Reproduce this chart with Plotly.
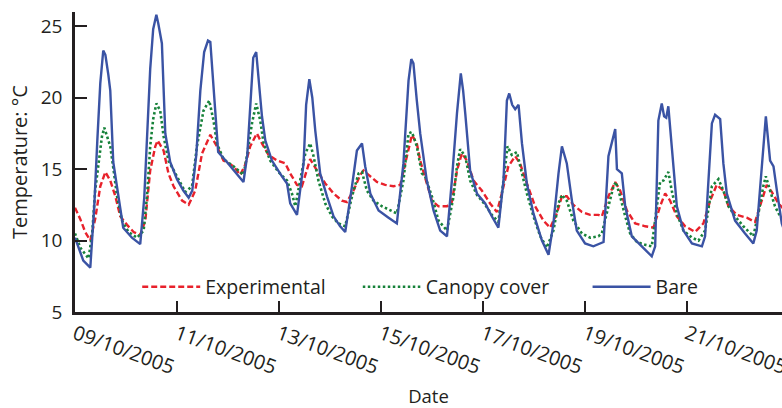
import pandas as pd
import plotly.graph_objects as go

# Hours since 09/10/2005 00:00 and temperatures (°C)
bare_hours = [0, 3.9, 7.2, 9.1, 10.5, 11.9, 13.3, 14.3, 15.7, 16.6, 18.0, 19.9, 22.7, 26.8,
              30.7, 32.6, 33.9, 35.4, 36.8, 38.3, 39.2, 40.9, 42.5, 44.8, 48.0, 51.0, 53.5,
              55.2, 57.1, 59.0, 60.8, 62.6, 63.7, 65.1, 66.8, 67.4, 71.5, 76.2, 79.3, 81.1,
              82.5, 83.9, 85.3, 86.4, 88.0, 89.6, 92.7, 97.4, 99.8, 101.3, 104.5, 107.6,
              108.8, 110.3, 111.7, 113.1, 115.4, 118.6, 121.7, 124.8, 127.2, 130.4, 132.7,
              135.1, 136.6, 139.0, 142.9, 147.6, 151.5, 154.6, 157.0, 158.3, 159.3, 160.9,
              162.5, 165.6, 168.8, 171.9, 175.1, 177.4, 179.8, 181.6, 182.7, 183.7, 186.0,
              189.2, 193.1, 196.2, 199.3, 201.7, 203.3, 204.4, 205.8, 207.2, 208.8, 210.4,
              212.7, 215.8, 219.8, 222.9, 225.2, 227.6, 229.2, 231.5, 233.9, 236.2, 240.1,
              244.0, 248.8, 251.1, 252.8, 254.3, 255.1, 257.4, 259.0, 262.1, 266.8, 271.5,
              273.1, 274.6, 276.2, 277.3, 278.3, 279.3, 280.9, 283.3, 286.4, 290.4, 295.1,
              296.6, 299.8, 301.3, 303.7, 305.2, 306.8, 310.7, 315.4, 319.3, 320.9, 323.3,
              325.2, 327.2, 328.8, 330.4, 332.7, 334.3]
bare_temp = [10.2, 8.6, 8.1, 12.5, 17.0, 21.0, 23.3, 23.0, 21.6, 20.5, 15.5, 13.5, 10.9, 10.2,
             9.75, 13.0, 17.0, 22.0, 24.8, 25.8, 25.2, 23.8, 17.5, 15.5, 14.3, 13.5, 13.0,
             13.5, 16.0, 20.5, 23.2, 24.0, 23.9, 21.0, 17.0, 16.2, 15.5, 14.7, 14.1, 16.0,
             19.5, 22.8, 23.2, 21.5, 18.7, 17.0, 15.6, 14.5, 14.0, 12.6, 11.8, 15.4,
             19.5, 21.3, 20.0, 17.7, 14.7, 13.1, 11.7, 11.0, 10.6, 13.8, 16.3,
             16.8, 15.2, 13.3, 12.1, 11.6, 11.2, 15.4, 21.2, 22.7, 22.4, 19.8,
             17.5, 14.2, 12.1, 10.7, 10.3, 14.2, 18.9, 21.7, 20.5, 18.9, 14.9,
             13.3, 12.6, 11.7, 10.9, 14.2, 19.8, 20.3, 19.5, 19.2, 19.5, 16.8,
             14.0, 11.9, 10.0, 9.0, 11.2, 14.7, 16.6, 15.4, 12.8, 10.7, 9.8,
             9.6, 9.9, 15.9, 17.0, 17.8, 15.0, 14.7, 12.4, 10.3, 9.6, 8.9,
             9.6, 18.4, 19.6, 18.7, 18.6, 19.4, 16.6, 12.4, 10.7, 9.8, 9.6,
             10.3, 18.2, 18.8, 18.5, 15.4, 13.3, 11.4, 10.5, 9.8, 10.7, 15.4,
             18.7, 15.6, 15.2, 13.5, 11.2, 10.5]

canopy_hours = [0, 2.5, 6.4, 8.1, 9.5, 11.1, 12.7, 13.8, 15.2, 16.6, 18.2, 19.8, 22.1, 25.2,
                29.2, 32.3, 33.9, 35.4, 36.8, 38.3, 40.1, 41.7, 44.0, 48.0, 51.9, 55.1, 57.4,
                60.5, 63.2, 65.2, 66.8, 69.9, 74.6, 79.3, 80.9, 83.3, 85.3, 87.2, 88.8, 91.9,
                95.8, 99.8, 102.1, 103.7, 106.0, 108.4, 110.7, 112.3, 114.6, 117.8, 120.9,
                124.0, 127.2, 130.4, 133.5, 135.1, 137.4, 140.5, 144.5, 148.4, 151.5, 154.6,
                157.0, 158.6, 160.9, 163.3, 164.8, 168.0, 171.1, 175.1, 178.2, 179.8, 181.3,
                183.7, 186.0, 189.2, 193.1, 196.2, 199.3, 201.7, 203.6, 205.6, 208.0, 210.4,
                212.7, 215.8, 219.0, 222.1, 225.2, 227.6, 229.2, 231.5, 234.6, 238.6, 242.5,
                246.4, 248.0, 251.1, 253.5, 254.6, 256.6, 259.0, 261.3, 264.5, 268.4, 271.5,
                273.9, 275.4, 277.0, 279.3, 280.9, 283.3, 286.4, 290.4, 293.5, 296.6, 299.8,
                302.9, 305.2, 307.6, 310.7, 314.6, 319.3, 321.7, 324.0, 325.2, 327.2, 329.5,
                331.9, 334.3]
canopy_temp = [10.5, 9.5, 8.75, 10.5, 13.5, 15.5, 17.3, 17.9, 17.2, 16.6, 14.9, 13.1, 11.4, 10.6,
               10.2, 10.7, 13.1, 16.6, 18.5, 19.6, 19.1, 17.3, 15.6, 14.5, 13.4, 13.8, 16.6,
               19.1, 19.8, 18.4, 16.8, 15.7, 15.2, 14.6, 15.9, 18.2, 19.6, 18.4, 16.8, 15.6,
               14.8, 14.2, 13.3, 12.4, 14.2, 16.1, 16.8, 15.9, 14.2, 12.6, 11.7,
               11.2, 11.0, 13.1, 14.7, 14.8, 13.5, 12.8, 12.4, 12.1, 11.9, 14.2,
               17.5, 17.6, 16.6, 14.7, 14.5, 13.1, 11.4, 10.7, 13.1, 15.2, 16.4,
               15.9, 14.2, 13.2, 12.5, 11.8, 11.3, 14.2, 16.6, 16.0, 16.2, 14.7,
               13.3, 11.7, 10.3, 9.5, 10.7, 12.6, 13.2, 12.8, 11.4, 10.5, 10.2,
               10.3, 10.5, 12.4, 13.8, 14.1, 13.1, 11.7, 10.5, 9.9, 9.7, 9.6,
               12.4, 14.1, 14.2, 14.8, 13.5, 11.9, 10.7, 10.2, 10.0, 10.7, 13.8,
               14.3, 13.5, 12.4, 11.7, 11.0, 10.3, 11.9, 13.8, 14.5, 13.5, 12.4,
               11.7, 11.2]

exp_hours = [0, 2.5, 4.8, 7.2, 9.5, 11.9, 14.3, 16.6, 19.0, 21.3, 24.5, 27.6, 30.7, 33.1,
             35.4, 37.8, 38.9, 41.7, 44.0, 46.4, 50.4, 53.5, 56.6, 59.8, 63.7, 66.8, 69.9,
             74.6, 77.8, 80.1, 82.5, 85.6, 88.0, 91.1, 95.1, 99.0, 101.3, 104.5, 106.8,
             109.2, 110.7, 113.9, 117.8, 121.7, 125.6, 128.0, 131.1, 134.3, 135.8, 138.2,
             142.1, 146.0, 149.9, 153.1, 156.2, 158.6, 160.9, 162.5, 165.6, 168.0, 171.1,
             175.1, 177.4, 179.8, 182.1, 184.5, 187.6, 191.5, 195.4, 198.6, 200.9, 204.0,
             207.2, 209.5, 212.7, 216.6, 220.5, 223.7, 226.8, 229.2, 231.5, 234.6, 238.6,
             242.5, 246.4, 248.0, 251.1, 254.3, 256.6, 259.8, 263.7, 268.4, 272.3, 275.4,
             277.8, 280.1, 283.3, 287.2, 291.9, 295.8, 299.0, 302.1, 305.2, 307.6, 311.5,
             316.2, 320.1, 323.3, 325.6, 328.0, 331.1, 334.3]
exp_temp = [12.3, 11.5, 10.6, 10.0, 11.5, 13.8, 14.8, 14.2, 13.1, 11.7, 11.1, 10.6, 10.4, 11.4,
            14.9, 16.6, 17.0, 16.3, 14.7, 13.8, 12.8, 12.5, 13.5, 16.1, 17.4, 16.6, 15.6,
            15.2, 14.6, 15.3, 16.6, 17.5, 16.8, 16.0, 15.6, 15.4, 14.7, 13.9, 13.8,
            14.9, 15.7, 14.9, 14.0, 13.3, 12.8, 12.7, 13.5, 14.6, 14.9, 14.6,
            14.1, 13.9, 13.8, 13.9, 15.9, 17.4, 16.8, 15.6, 14.0, 12.8, 12.4,
            12.4, 12.7, 14.9, 16.1, 15.6, 14.2, 13.5, 12.6, 12.0, 13.3, 15.2,
            15.9, 15.4, 14.0, 12.4, 11.4, 10.9, 11.9, 13.1, 13.1, 12.5, 12.0,
            11.8, 11.8, 11.7, 13.1, 14.1, 13.5, 12.1, 11.2, 11.0, 10.9, 12.4,
            13.3, 12.8, 11.7, 11.0, 10.6, 11.2, 12.8, 13.9, 13.5, 12.4, 11.8,
            11.6, 11.3, 12.8, 13.9, 13.4, 12.6, 12.1]

tick_dates = ["2005-10-09", "2005-10-11", "2005-10-13", "2005-10-15",
              "2005-10-17", "2005-10-19", "2005-10-21"]
y_ticks = [5, 10, 15, 20, 25]

base = pd.Timestamp("2005-10-09")
to_time = lambda hrs: base + pd.to_timedelta(hrs, unit="h")

FONT = "Open Sans"
TXT = "#231f20"

fig = go.Figure()
fig.add_trace(go.Scatter(x=to_time(exp_hours), y=exp_temp, mode="lines", name="Experimental",
                         line=dict(color="#e8212b", width=2.4, dash="6px,3px"),
                         legend="legend", showlegend=True))
fig.add_trace(go.Scatter(x=to_time(canopy_hours), y=canopy_temp, mode="lines", name="Canopy cover",
                         line=dict(color="#17823a", width=2.6, dash="2.5px,2.5px"),
                         legend="legend2", showlegend=True))
fig.add_trace(go.Scatter(x=to_time(bare_hours), y=bare_temp, mode="lines", name="Bare",
                         line=dict(color="#3a53a4", width=2.4),
                         legend="legend3", showlegend=True))

leg = dict(orientation="h", yanchor="middle", y=0.083, xanchor="left",
           font=dict(family=FONT, size=19.5, color=TXT), bgcolor="rgba(0,0,0,0)",
           itemwidth=58, borderwidth=0, visible=True)
fig.update_layout(
    width=782, height=408,
    margin=dict(l=75, r=0, t=12, b=96, autoexpand=False),
    paper_bgcolor="white", plot_bgcolor="white",
    showlegend=True,
    font=dict(family=FONT, size=18, color=TXT),
    legend=dict(leg, x=0.088),
    legend2=dict(leg, x=0.40),
    legend3=dict(leg, x=0.725),
    xaxis=dict(
        range=[base, to_time(332.8)], automargin=False,
        tickvals=pd.to_datetime(tick_dates), tickformat="%d/%m/%Y",
        tickangle=20, ticks="inside", ticklen=11, tickwidth=2, tickcolor=TXT,
        ticklabeloverflow="allow",
        showline=True, linecolor=TXT, linewidth=2.5, showgrid=False, zeroline=False,
        tickfont=dict(family=FONT, size=20, color=TXT),
        title=dict(text="Date", font=dict(family=FONT, size=18.5, color=TXT), standoff=16),
    ),
    yaxis=dict(
        range=[5, 26], tickvals=y_ticks,
        ticks="inside", ticklen=12, tickwidth=2, tickcolor=TXT,
        showline=True, linecolor=TXT, linewidth=2.5, showgrid=False, zeroline=False,
        tickfont=dict(family=FONT, size=19, color=TXT), ticklabelstandoff=6,
        title=dict(text="Temperature: °C", font=dict(family=FONT, size=20, color=TXT), standoff=8),
    ),
)
fig.write_html("out.html")
